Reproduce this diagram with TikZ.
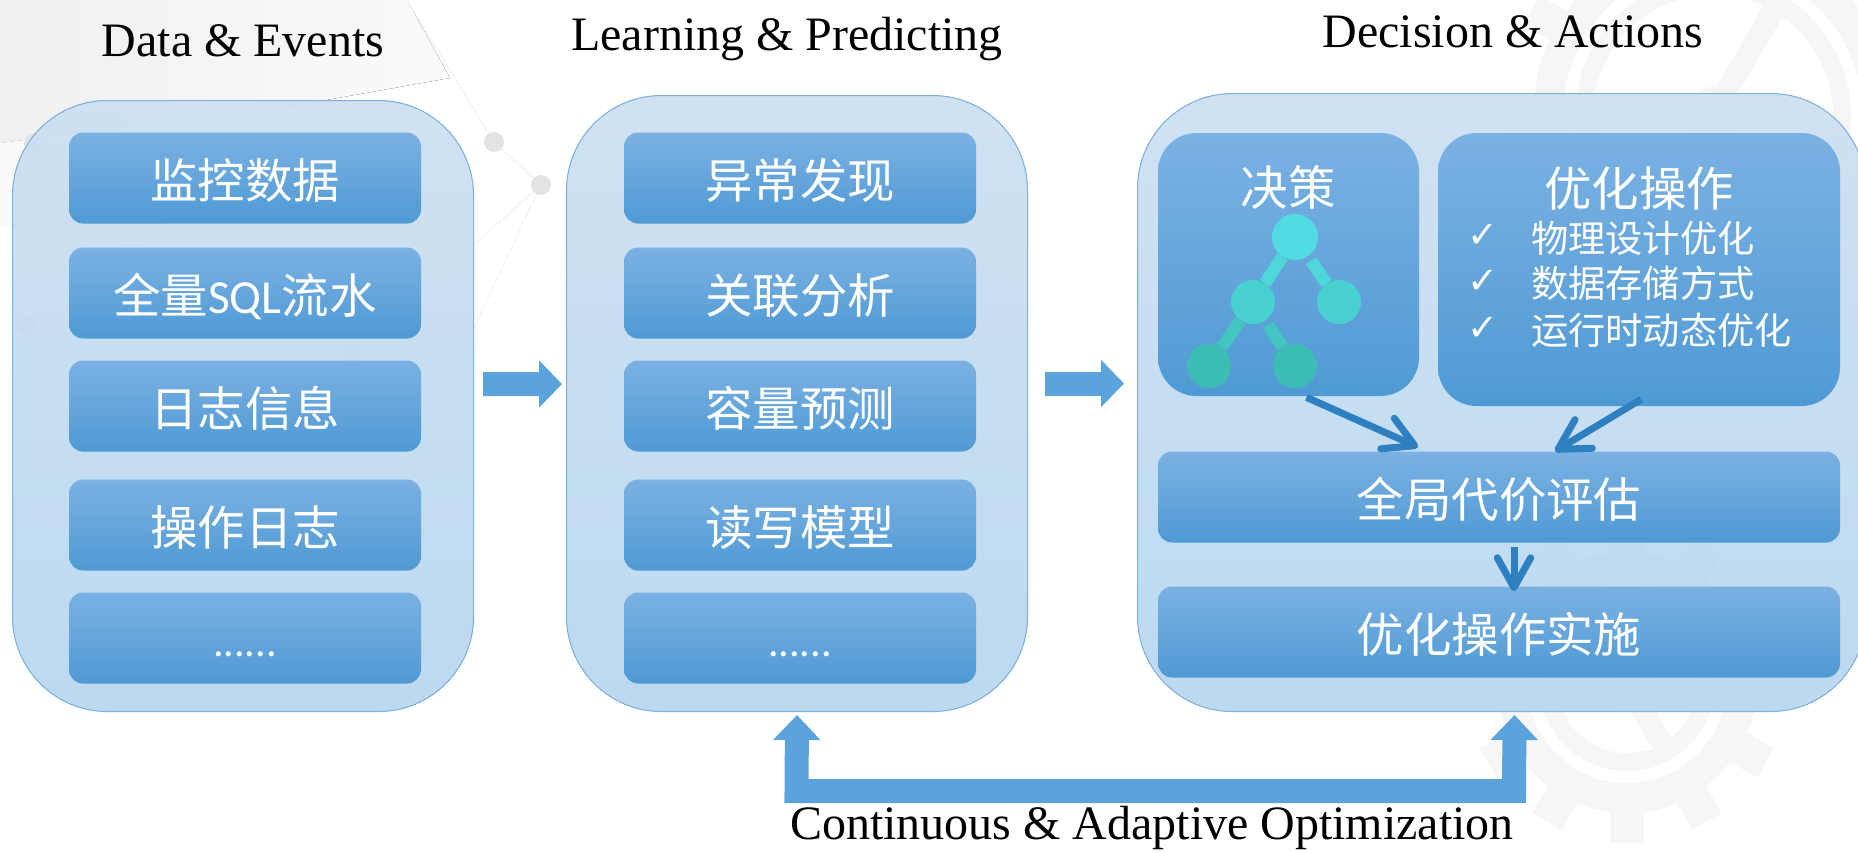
\documentclass[tikz,border=0pt]{standalone}
\usepackage{fontspec}
\setmainfont{Liberation Serif}
\newfontfamily\cjk{Noto Sans CJK SC}
\newfontfamily\tick{DejaVu Sans}
\newfontfamily\latinfont{Carlito}
\usetikzlibrary{arrows.meta,positioning}

\newcommand{\px}{0.02cm}

\definecolor{panelTop}{HTML}{CBDFF1}
\definecolor{panelBot}{HTML}{B5D5EE}
\definecolor{panelLine}{HTML}{7DB0DC}
\definecolor{boxTop}{HTML}{7BB1E3}
\definecolor{boxBot}{HTML}{4F9AD4}
\definecolor{flowBlue}{HTML}{5BA3DC}
\definecolor{evalBlue}{HTML}{2F80C0}
\definecolor{treeTop}{HTML}{52DCE2}
\definecolor{treeBot}{HTML}{3CBDB4}
\definecolor{wmGrey}{HTML}{F6F6F6}

\tikzset{
  title/.style={font=\fontsize{27.3}{31}\selectfont},
  panel/.style={draw=panelLine, line width=0.6pt, top color=panelTop, bottom color=panelBot, fill opacity=0.9, rounded corners=54pt, anchor=north west},
  item/.style={top color=boxTop, bottom color=boxBot, rounded corners=8pt, text=white, font=\cjk\fontsize{27}{31}\selectfont, text height=26pt, text depth=2.6pt, minimum width=352*\px, minimum height=91*\px},
  wideitem/.style={item, minimum width=682*\px},
  dotsitem/.style={item, font=\latinfont\fontsize{24}{28}\selectfont, text height=21.6pt, text depth=0pt},
  biglabel/.style={text=white, font=\cjk\fontsize{27}{31}\selectfont},
  listlabel/.style={text=white, font=\cjk\fontsize{21.2}{24}\selectfont, anchor=west},
  ticklabel/.style={text=white, font=\tick\fontsize{21}{24}\selectfont},
  blockarrow/.style={draw=flowBlue, line width=24*\px, -{Triangle[length=23*\px,width=46*\px]}},
  evalarrow/.style={draw=evalBlue, line width=4pt, -{Straight Barb[length=17pt,width=19pt,round]}},
  treeedge/.style={line width=7pt},
  wmdot/.style={circle, fill=black!11, minimum size=20*\px, inner sep=0pt},
  wmline/.style={black!5, line width=0.6pt},
}

\begin{document}
\begin{tikzpicture}[x=\px,y=-\px]
\clip (0,0) rectangle (1858,852);

% watermark, top left
\fill [left color=black!6, right color=black!2] (0,0) -- (407,0) -- (450,78) -- (270,110) -- (0,143) -- cycle;
\fill [black!2] (0,143) -- (270,110) -- (140,250) -- (0,225) -- cycle;
\node [wmdot] (w1) at (34,143) {};
\node [wmdot] (w2) at (494,142) {};
\node [wmdot] (w3) at (541,185) {};
\node [wmdot] (w4) at (27,325) {};
\node [wmdot] (w5) at (352,353) {};
\draw [wmline] (w1) -- (w5) -- (w3) -- (w2) -- (407,0);
\draw [wmline] (w4) -- (w5);
\draw [wmline] (w3) -- (440,400);

% watermark, gears
\foreach \cx/\cy/\ro in {1713/115/180, 1627/683/130} {
  \fill [wmGrey, even odd rule] (\cx,\cy) circle (\ro) (\cx,\cy) circle (\ro-30);
  \foreach \a in {0,30,...,330}
    \draw [wmGrey, line width=34*\px] (\cx,\cy) ++(\a:\ro-4) -- ++(\a:34);
  \fill [wmGrey] (\cx,\cy) circle (\ro-42);
  \fill [white] (\cx,\cy) circle (\ro-60);
  \foreach \a in {60,180,300}
    \draw [wmGrey, line width=22*\px] (\cx,\cy) -- ++(\a:\ro-50);
  \fill [wmGrey] (\cx,\cy) circle (28);
  \fill [white] (\cx,\cy) circle (14);
}

% panels
\node [panel, minimum width=461*\px, minimum height=611*\px] (panelA) at (12,100) {};
\node [panel, minimum width=461*\px, minimum height=616*\px] (panelB) at (566,95) {};
\node [panel, minimum width=728*\px, minimum height=618*\px] (panelC) at (1137,93) {};

% titles
\node [title] (titleA) at (243,41) {Data \& Events};
\node [title] (titleB) at (787,39) {Learning \& Predicting};
\node [title] (titleC) at (1513,32) {Decision \& Actions};
\node [title] (titleD) at (1152,828) {Continuous \& Adaptive Optimization};

% left column
\node [item] (a1) at (245,178) {监控数据};
\node [item] (a2) at (245,293) {全量{\latinfont SQL}流水};
\node [item] (a3) at (245,406) {日志信息};
\node [item] (a4) at (245,525) {操作日志};
\node [dotsitem] (a5) at (245,638) {......};

% middle column
\node [item] (b1) at (800,178) {异常发现};
\node [item] (b2) at (800,293) {关联分析};
\node [item] (b3) at (800,406) {容量预测};
\node [item] (b4) at (800,525) {读写模型};
\node [dotsitem] (b5) at (800,638) {......};

% right column
\node [item, minimum width=261*\px, minimum height=263*\px, rounded corners=22pt] (decide) at (1288.5,264.5) {};
\node [item, minimum width=402*\px, minimum height=273*\px, rounded corners=22pt] (tune) at (1639,269.5) {};
\node [wideitem] (eval) at (1499,497) {全局代价评估};
\node [wideitem] (apply) at (1499,632) {优化操作实施};

\node [biglabel] (decideLabel) at (1288,187) {决策};
\node [biglabel] (tuneLabel) at (1639,188) {优化操作};
\node [ticklabel] (tick1) at (1483,236) {✓};
\node [ticklabel] (tick2) at (1483,282) {✓};
\node [ticklabel] (tick3) at (1483,329) {✓};
\node [listlabel] (tune1) at (1525,238) {物理设计优化};
\node [listlabel] (tune2) at (1525,283) {数据存储方式};
\node [listlabel] (tune3) at (1525,330) {运行时动态优化};

% tree
\node [circle, fill=treeTop, minimum size=46*\px, inner sep=0pt] (t1) at (1295,237) {};
\node [circle, fill=treeTop!60!treeBot, minimum size=44*\px, inner sep=0pt] (t2) at (1253,302) {};
\node [circle, fill=treeTop!60!treeBot, minimum size=44*\px, inner sep=0pt] (t3) at (1339,302) {};
\node [circle, fill=treeBot, minimum size=44*\px, inner sep=0pt] (t4) at (1209,366) {};
\node [circle, fill=treeBot, minimum size=44*\px, inner sep=0pt] (t5) at (1295,366) {};
\draw [treeedge, treeTop!80!treeBot] (t1) -- (t2);
\draw [treeedge, treeTop!80!treeBot, shorten <=3pt] (t1) -- (t3);
\draw [treeedge, treeTop!30!treeBot] (t2) -- (t4);
\draw [treeedge, treeTop!30!treeBot, shorten <=3pt] (t2) -- (t5);

% arrows
\draw [blockarrow, shorten <=9*\px, shorten >=4*\px] ([yshift=22*\px]panelA.east) -- ([yshift=19.5*\px]panelB.west);
\draw [blockarrow, shorten <=17*\px, shorten >=13*\px] ([yshift=20*\px]panelB.east) -- ([yshift=19*\px]panelC.west);
\draw [evalarrow] ([xshift=18*\px,yshift=-1*\px]decide.south) -- ([xshift=-81*\px,yshift=4*\px]eval.north);
\draw [evalarrow] ([xshift=2*\px,yshift=7*\px]tune.south) -- ([xshift=56*\px]eval.north);
\draw [evalarrow] ([xshift=15*\px,yshift=-4*\px]eval.south) -- ([xshift=15*\px,yshift=-5*\px]apply.north);

% feedback
\coordinate (loopL) at (796.5,791);
\coordinate (loopR) at (1514,791);
\draw [blockarrow, {Triangle[length=25*\px,width=46*\px]}-{Triangle[length=25*\px,width=46*\px]}, shorten <=3*\px, shorten >=3*\px]
  (panelB.south) -- (loopL) -- (loopR) -- ([xshift=13*\px]panelC.south);
\end{tikzpicture}
\end{document}
